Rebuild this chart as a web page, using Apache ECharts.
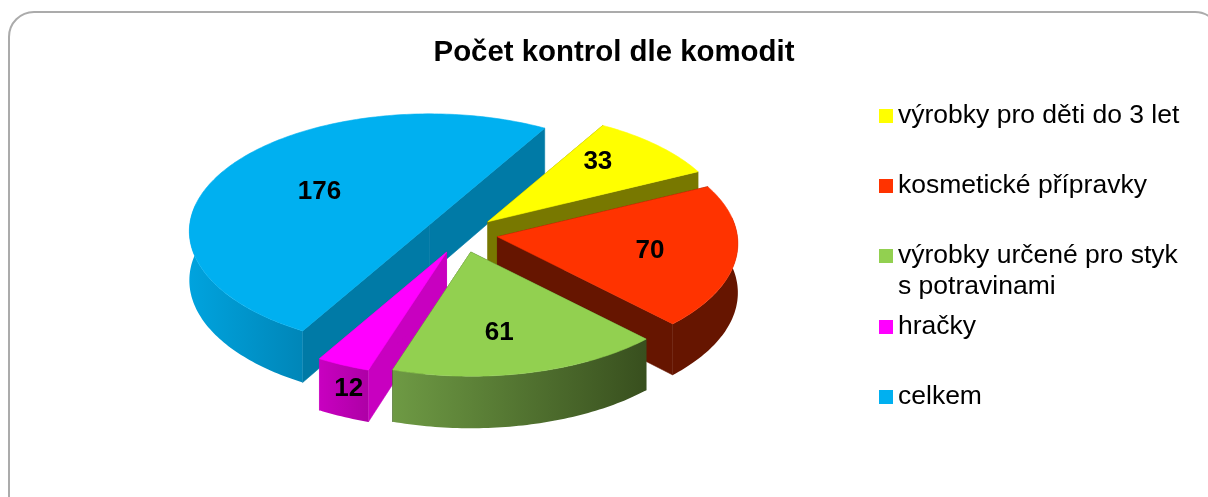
<!DOCTYPE html>
<html><head><meta charset="utf-8">
<style>html,body{margin:0;padding:0;background:#fff}#c{width:1208px;height:497px}</style>
<script src="https://cdn.jsdelivr.net/npm/echarts@6/dist/echarts.min.js"></script>
</head><body><div id="c"></div>
<script>
const categories = ['výrobky pro děti do 3 let','kosmetické přípravky','výrobky určené pro styk s potravinami','hračky','celkem'];
const values = [33,70,61,12,176];
const titleText = 'Počet kontrol dle komodit';

// --- styling and projection settings of the tilted pie ---
const topColors  = ['#FFFF00','#FF3300','#92D050','#FF00FF','#00B0F0'];
const edgeColors = ['#787800','#661500','#38501E','#C800C0','#007AA6'];
const rimStops = [
  [[0,'#787800'],[1,'#787800']],
  [[0,'#661500'],[1,'#661500']],
  [[0,'#6E9A44'],[1,'#384F1E']],
  [[0,'#C800C0'],[1,'#AE00A6']],
  [[0,'#00A3DE'],[1,'#0086B8']]
];
const zLevels = [2,3,5,4,1];
const pie = {cx:460, cy:234, a:240, b:117, persp:0.058, depth:49, startDeg:30.2};
const explode = [[38,18],[38,16.4],[47,18.5],[33,20],[35,19]];
const labelAt = [
  {f:0.72, dx:-13, dy:-4},
  {f:0.62, dx:5,   dy:2},
  {f:0.62, dx:-7,  dy:8},
  {f:0.95, dx:0,   dy:30},
  {f:0.55, dx:2,   dy:-1}
];
const legendCentre = [116,186,256,327,397];

const total = values.reduce((s,v)=>s+v,0);
function sliceAngles(i){
  let before = 0; for(let k=0;k<i;k++) before += values[k];
  return [pie.startDeg + before/total*360, pie.startDeg + (before+values[i])/total*360];
}
function unit(deg){const r=deg*Math.PI/180; return [Math.sin(r), -Math.cos(r)];}
function apexOf(i){
  const [s,e]=sliceAngles(i), [X,Y]=unit((s+e)/2);
  return [pie.cx+explode[i][0]*X, pie.cy+explode[i][1]*Y];
}
function project(ap, deg, f){
  const [X,Y]=unit(deg), s=1/(1-pie.persp*Y*f);
  return [ap[0]+pie.a*X*f*s, ap[1]+pie.b*Y*f*s, s];
}
function arcPoints(ap,s,e){
  const steps=Math.max(6,Math.ceil(e-s)), top=[], bot=[];
  for(let k=0;k<=steps;k++){
    const p=project(ap,s+(e-s)*k/steps,1);
    top.push([p[0],p[1]]);
    bot.push([p[0],p[1]+pie.depth*p[2]]);
  }
  return {top,bot};
}
function renderSlice(i){
  return function(){
    const [s,e]=sliceAngles(i), ap=apexOf(i);
    const whole=arcPoints(ap,s,e), last=whole.top.length-1;
    const apBot=[ap[0],ap[1]+pie.depth];
    const poly=(pts,fill)=>({type:'polygon',shape:{points:pts},
      style:{fill:fill,stroke:typeof fill==='string'?fill:null,lineWidth:typeof fill==='string'?0.6:0}});
    const rim={type:'linear',x:0,y:0,x2:1,y2:0,colorStops:rimStops[i].map(c=>({offset:c[0],color:c[1]}))};
    const children=[
      poly([ap,whole.top[0],whole.bot[0],apBot],edgeColors[i]),
      poly([ap,whole.top[last],whole.bot[last],apBot],edgeColors[i])
    ];
    const rs=Math.max(s,80), re=Math.min(e,280);
    if(re>rs){
      const near=arcPoints(ap,rs,re);
      children.push(poly(near.top.concat(near.bot.slice().reverse()),rim));
    }
    children.push(poly([ap].concat(whole.top),topColors[i]));
    const [lx,ly]=project(ap,(s+e)/2,labelAt[i].f);
    children.push({type:'text',style:{text:String(values[i]),x:lx+labelAt[i].dx,y:ly+labelAt[i].dy,
      font:'bold 26px "Liberation Sans"',fill:'#000',align:'center',verticalAlign:'middle'}});
    return {type:'group',children};
  };
}
const chart=echarts.init(document.getElementById('c'),null,{renderer:'canvas'});
chart.setOption({
  animation:false,
  backgroundColor:'#fff',
  title:{text:titleText,left:609,top:33,textAlign:'center',
    textStyle:{fontFamily:'Liberation Sans',fontSize:29.4,fontWeight:'bold',color:'#000'}},
  graphic:[{type:'rect',z:-1,silent:true,shape:{x:9,y:12,width:1211,height:520,r:25},
    style:{fill:'#fff',stroke:'#ABABAB',lineWidth:2}}],
  legend:categories.map((name,i)=>({
    data:[name],orient:'vertical',left:879,top:legendCentre[i]-(i===2?46.5:15.5),padding:0,
    icon:'rect',itemWidth:14,itemHeight:14,selectedMode:false,
    formatter:n=>n.indexOf(' s potravinami')>0?'\u00a0\n'+n.replace(' s potravinami','\ns potravinami'):n,
    textStyle:{fontFamily:'Liberation Sans',fontSize:26.5,color:'#000',lineHeight:31}
  })),
  series:categories.map((name,i)=>({
    type:'custom',name:name,coordinateSystem:'none',z:zLevels[i],silent:true,
    itemStyle:{color:topColors[i]},data:[values[i]],renderItem:renderSlice(i)
  }))
});
</script></body></html>
